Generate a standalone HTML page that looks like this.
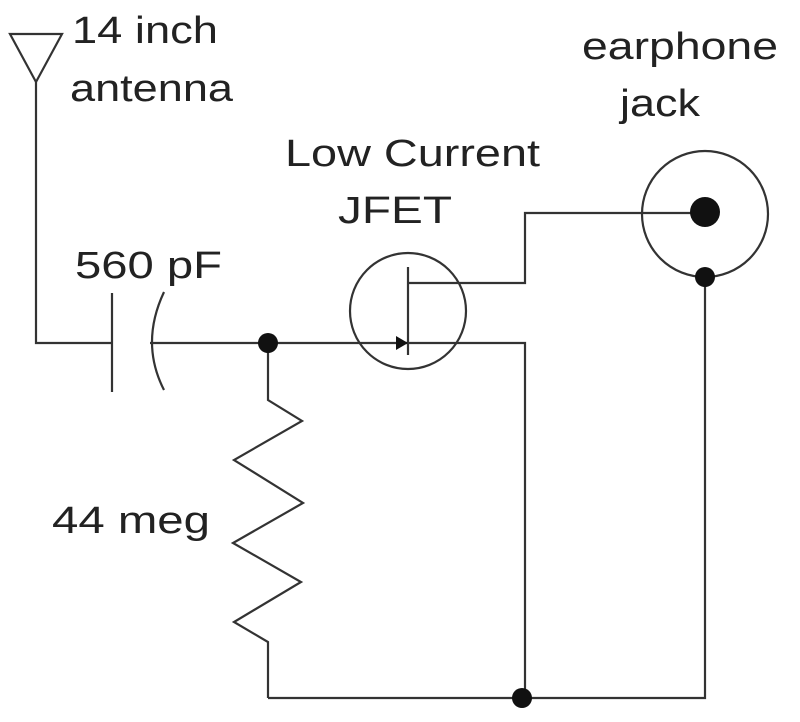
<!DOCTYPE html>
<html><head><style>body{margin:0;background:#fff}svg{display:block}</style></head><body>
<svg width="800" height="722" viewBox="0 0 800 722" xmlns="http://www.w3.org/2000/svg">
<g fill="none" stroke="#333" stroke-width="2.2">
<path d="M10 34 L62 34 L36 82 Z"/>
<path d="M36 82 V343 H112"/>
<path d="M112 293 V392"/>
<path d="M164 292 Q140 343 164 390"/>
<path d="M150 343 H408"/>
<circle cx="408" cy="311" r="58"/>
<path d="M408 267 V355"/>
<path d="M408 283 H525 V213 H705"/>
<path d="M408 343 H525 V698"/>
<circle cx="705" cy="214" r="63"/>
<path d="M705 277 V698 H268"/>
<path d="M268 343 V400 L302 421 L234 460 L303 503 L233 543 L301 582 L234 622 L268 642 V698"/>
</g>
<path d="M396 336 L408 343 L396 350 Z" fill="#111"/>
<g fill="#111">
<circle cx="268" cy="343" r="10"/>
<circle cx="705" cy="212" r="15"/>
<circle cx="705" cy="277" r="10"/>
<circle cx="522" cy="698" r="10"/>
</g>
<g font-family="Liberation Sans, sans-serif" font-size="38" fill="#222" lengthAdjust="spacingAndGlyphs">
<text x="72" y="43" textLength="146" lengthAdjust="spacingAndGlyphs">14 inch</text>
<text x="70" y="101" textLength="163" lengthAdjust="spacingAndGlyphs">antenna</text>
<text x="75" y="278" textLength="147" lengthAdjust="spacingAndGlyphs">560 pF</text>
<text x="285" y="166" textLength="255" lengthAdjust="spacingAndGlyphs">Low Current</text>
<text x="338" y="223" textLength="114" lengthAdjust="spacingAndGlyphs">JFET</text>
<text x="582" y="59" textLength="196" lengthAdjust="spacingAndGlyphs">earphone</text>
<text x="620" y="116" textLength="80" lengthAdjust="spacingAndGlyphs">jack</text>
<text x="52" y="533" textLength="158" lengthAdjust="spacingAndGlyphs">44 meg</text>
</g>
</svg>
</body></html>
